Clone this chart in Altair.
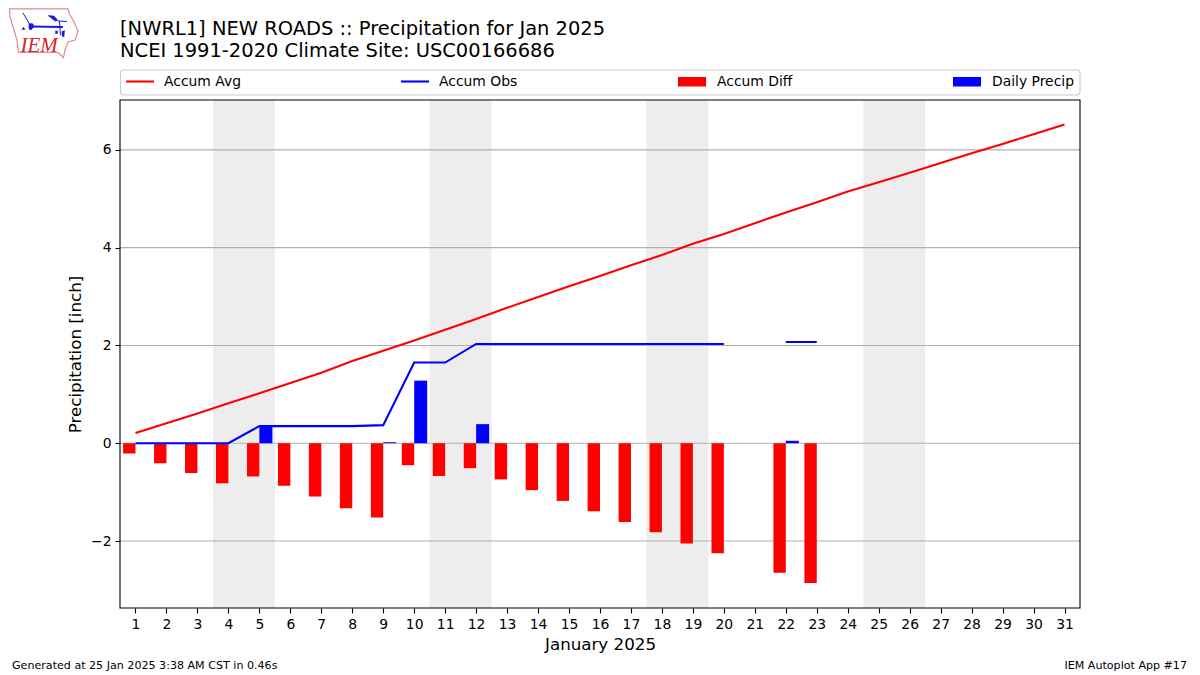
import altair as alt
import pandas as pd

FONT = "DejaVu Sans"
TITLE_LINES = ["[NWRL1] NEW ROADS :: Precipitation for Jan 2025",
               "NCEI 1991-2020 Climate Site: USC00166686"]
days = list(range(1, 32))
accum_avg = [0.21, 0.41, 0.61, 0.82, 1.02, 1.23, 1.44, 1.68, 1.89, 2.10, 2.32, 2.54, 2.77, 2.99, 3.21, 3.42,
             3.64, 3.85, 4.08, 4.28, 4.50, 4.72, 4.93, 5.15, 5.34, 5.53, 5.73, 5.93, 6.12, 6.32, 6.52]
accum_obs = [0, 0, 0, 0, 0.35, 0.35, 0.35, 0.35, 0.37, 1.65, 1.65, 2.03, 2.03, 2.03, 2.03, 2.03,
             2.03, 2.03, 2.03, 2.03, None, 2.07, 2.07, None, None, None, None, None, None, None, None]
accum_diff = [-0.21, -0.41, -0.61, -0.82, -0.68, -0.87, -1.09, -1.33, -1.52, -0.45, -0.67, -0.51, -0.74, -0.96,
              -1.18, -1.39, -1.61, -1.82, -2.05, -2.25, None, -2.65, -2.86, None, None, None, None, None, None, None, None]
daily_days = [5, 9, 10, 12, 22]
daily_precip = [0.35, 0.02, 1.28, 0.39, 0.05]
weekend_starts = [4, 11, 18, 25]
grid_values = [-2, 0, 2, 4, 6]
legend_labels = ["Accum Avg", "Accum Obs", "Accum Diff", "Daily Precip"]
footer_left = "Generated at 25 Jan 2025 3:38 AM CST in 0.46s"
footer_right = "IEM Autoplot App #17"

W, H = 960, 508
LEFT, TOP = 120, 100  # plot origin in page pixels

df = pd.DataFrame({"day": days, "avg": accum_avg, "obs": accum_obs, "diff": accum_diff}).astype(float)
daily = pd.DataFrame({"day": daily_days, "precip": daily_precip})
weekends = pd.DataFrame({"day": weekend_starts})
grid = pd.DataFrame({"v": grid_values})
one = pd.DataFrame({"t": [0]})

x_scale = alt.Scale(domain=[0.5, 31.5], nice=False, zero=False)
y_scale = alt.Scale(domain=[-3.37, 7.02], nice=False, zero=False)
x_axis = alt.Axis(values=days, format="d", labelOverlap=False, grid=False, title="January 2025")
y_axis = alt.Axis(values=grid_values, format="d", grid=False, title="Precipitation [inch]")


def X(f="day"):
    return alt.X(f"{f}:Q", scale=x_scale, axis=x_axis)


def Y(f):
    return alt.Y(f"{f}:Q", scale=y_scale, axis=y_axis)


bands = alt.Chart(weekends).transform_calculate(a="datum.day-0.5", b="datum.day+1.5").mark_rect(
    color="#ededed").encode(x=X("a"), x2="b:Q")
rules = alt.Chart(grid).mark_rule(color="#b0b0b0", strokeWidth=1.1).encode(y=Y("v"))
diff_bars = alt.Chart(df).transform_filter("isValid(datum['diff'])").transform_calculate(
    a="datum.day-0.4", zero="0").mark_rect(color="#ff0000").encode(x=X("a"), x2="day:Q", y=Y("diff"), y2="zero:Q")
daily_bars = alt.Chart(daily).transform_calculate(
    b="datum.day+0.42", zero="0").mark_rect(color="#0000ff").encode(x=X("day"), x2="b:Q", y=Y("precip"), y2="zero:Q")
avg_line = alt.Chart(df).mark_line(color="#ff0000", strokeWidth=2.08).encode(x=X(), y=Y("avg"))
obs_line = alt.Chart(df).mark_line(color="#0000ff", strokeWidth=2.08).encode(x=X(), y=Y("obs"))


def px(x):
    return alt.value(x - LEFT)


def py(y):
    return alt.value(y - TOP)


def label(text, x, y, size=13.9, align="left"):
    return alt.Chart(one).mark_text(
        text=text, font=FONT, fontSize=size, align=align, baseline="middle", color="#000000"
    ).encode(x=px(x), y=py(y))


frame = alt.Chart(one).mark_rect(fillOpacity=0, stroke="#000000", strokeWidth=1.1).encode(
    x=alt.value(0), x2=alt.value(W), y=alt.value(0), y2=alt.value(H))

legend = [
    alt.Chart(one).mark_rect(fill="#ffffff", stroke="#cccccc", strokeWidth=1.1, cornerRadius=3).encode(
        x=px(120.5), x2=px(1080), y=py(70), y2=py(95)),
    alt.Chart(one).mark_rule(color="#ff0000", strokeWidth=2.08).encode(x=px(126), x2=px(154), y=py(81.5)),
    alt.Chart(one).mark_rule(color="#0000ff", strokeWidth=2.08).encode(x=px(401), x2=px(429), y=py(81.5)),
    alt.Chart(one).mark_rect(color="#ff0000").encode(x=px(678), x2=px(706), y=py(77), y2=py(86.5)),
    alt.Chart(one).mark_rect(color="#0000ff").encode(x=px(953), x2=px(981), y=py(77), y2=py(86.5)),
    label(legend_labels[0], 164, 81.5),
    label(legend_labels[1], 439, 81.5),
    label(legend_labels[2], 717, 81.5),
    label(legend_labels[3], 992, 81.5),
]
titles = [label(TITLE_LINES[0], 120, 29, 19.47), label(TITLE_LINES[1], 120, 50.5, 19.47)]
footer = [label(footer_left, 12, 666, 11.1), label(footer_right, 1187, 666, 11.1, "right")]

# IEM logo, drawn as custom symbols centred at (44, 32) with a 35 px half-extent
CX, CY, R = 44, 32, 35


def path(points, close=True):
    cmds = [("M" if i == 0 else "L") + f"{(x - CX) / R:.4f},{(y - CY) / R:.4f}" for i, (x, y) in enumerate(points)]
    return " ".join(cmds) + (" Z" if close else "")


def logo_shape(points, close=True, filled=False, color="#1a1add", sw=1.0):
    return alt.Chart(one).mark_point(
        shape=path(points, close), size=(2 * R) ** 2, filled=filled, opacity=1,
        stroke=color, strokeWidth=sw, fill=color if filled else "transparent"
    ).encode(x=px(CX), y=py(CY))


outline = [(9.5, 8.8), (68, 8.8), (69.5, 14), (73, 20), (78, 31), (75, 40), (68, 42), (65, 50), (63.5, 57.5),
           (58, 52.5), (18.5, 52.5), (17, 40), (13, 27), (10, 17)]
logo = [
    logo_shape(outline, color="#e08a8a", sw=1.2),
    logo_shape([(31, 26.5), (63, 27)], close=False, sw=1.8),
    logo_shape([(23, 13), (30, 25)], close=False, sw=1.0),
    logo_shape([(29, 24), (31, 23.5), (33, 24), (33.5, 27), (31, 30), (29, 29)], filled=True, sw=0.6),
    logo_shape([(48, 15.5), (54, 16), (58, 20.5), (55, 21)], filled=True, sw=0.5),
    logo_shape([(58, 21), (67, 21.5)], close=False, sw=1.0),
    logo_shape([(59.5, 21), (60.5, 35)], close=False, sw=1.0),
    logo_shape([(55.5, 31), (57.5, 31), (57.5, 33.5), (55.5, 33.5)], filled=True, sw=0.5),
    logo_shape([(62, 31.5), (64.5, 30.5), (64, 37), (62, 36)], filled=True, sw=0.5),
    logo_shape([(23.5, 27), (25, 29.5), (22, 29.5)], filled=True, sw=0.5),
    alt.Chart(one).mark_text(
        text="IEM", font="Liberation Serif", fontStyle="italic", fontSize=21, align="left", baseline="middle",
        color="#d62728").encode(x=px(20.5), y=py(45.5)),
]

chart = alt.layer(
    bands, rules, diff_bars, daily_bars, avg_line, obs_line, frame, *legend, *titles, *footer, *logo
).properties(
    width=W, height=H,
    autosize=alt.AutoSizeParams(type="none"),
    padding={"left": LEFT - 8, "top": TOP - 8, "right": 1200 - 8 - LEFT - W, "bottom": 67},
).configure_view(stroke=None).configure_axis(
    labelFont=FONT, titleFont=FONT, labelFontSize=13.9, titleFontSize=16.7, titleFontWeight="normal",
    labelColor="#000000", titleColor="#000000", tickColor="#000000", domain=False,
    tickSize=5, tickWidth=1.1, labelPadding=4, titlePadding=6,
)

chart.save("out.html", embed_options={"renderer": "svg", "actions": False})
